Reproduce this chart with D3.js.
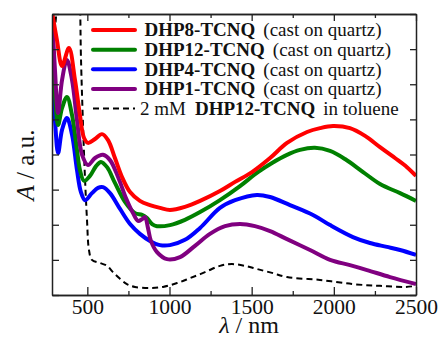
<!DOCTYPE html>
<html>
<head>
<meta charset="utf-8">
<script src="https://cdn.jsdelivr.net/npm/d3@7"></script>
<style>
  body { margin: 0; background: #fff; }
  svg { display: block; font-family: "Liberation Serif", "Times New Roman", serif; }
</style>
</head>
<body>
<div id="chart"></div>
<script>
// spectra: [wavelength in nm, absorbance in a.u.]
let dhp8 = [
  [285, 8.06], [315, 7.26], [346, 6.52], [388, 7.03], [425, 6.12], [455, 5.12],
  [480, 4.47], [504, 4.33], [547, 4.44], [589, 4.58], [626, 4.41], [668, 3.9],
  [711, 3.36], [760, 2.93], [820, 2.68], [881, 2.56], [942, 2.48], [1003, 2.42],
  [1094, 2.51], [1186, 2.68], [1307, 2.96], [1399, 3.22], [1502, 3.5], [1612, 3.9],
  [1715, 4.33], [1837, 4.64], [1916, 4.75], [1995, 4.81], [2098, 4.75], [2190, 4.53],
  [2281, 4.21], [2372, 3.9], [2445, 3.64], [2500, 3.39],
];
let dhp12 = [
  [285, 6.75], [303, 5.69], [322, 4.84], [346, 5.32], [376, 5.64], [407, 5.12],
  [437, 4.13], [455, 3.56], [480, 3.25], [516, 3.39], [553, 3.67], [583, 3.79],
  [620, 3.64], [668, 3.19], [729, 2.65], [790, 2.33], [833, 2.28], [863, 2.19],
  [894, 2.02], [924, 1.96], [1003, 1.99], [1094, 2.14], [1186, 2.36], [1307, 2.7],
  [1429, 3.1], [1538, 3.5], [1624, 3.76], [1715, 3.99], [1794, 4.13], [1885, 4.19],
  [1977, 4.1], [2068, 3.87], [2178, 3.5], [2281, 3.16], [2403, 2.9], [2500, 2.68],
];
let dhp4 = [
  [285, 6.35], [303, 4.98], [322, 4.04], [346, 4.7], [376, 5.04], [407, 4.56],
  [437, 3.56], [461, 2.93], [486, 2.7], [528, 2.9], [565, 3.05], [595, 3.07],
  [638, 2.9], [699, 2.45], [760, 2.02], [820, 1.74], [881, 1.54], [942, 1.42],
  [1003, 1.42], [1094, 1.57], [1186, 1.91], [1307, 2.48], [1399, 2.7], [1532, 2.85],
  [1612, 2.79], [1733, 2.56], [1873, 2.28], [1977, 1.99], [2116, 1.65], [2220, 1.48],
  [2323, 1.37], [2403, 1.28], [2500, 1.14],
];
let dhp1 = [
  [285, 8.03], [303, 6.41], [322, 5.18], [346, 6.12], [376, 6.69], [407, 6.12],
  [437, 4.98], [468, 3.99], [504, 3.7], [547, 3.9], [595, 3.99], [638, 3.84],
  [687, 3.36], [735, 2.76], [778, 2.33], [808, 2.11], [833, 2.16], [851, 2.22],
  [869, 1.91], [887, 1.54], [924, 1.22], [985, 1.02], [1064, 1.08], [1155, 1.4],
  [1246, 1.74], [1338, 1.96], [1429, 2.02], [1520, 1.96], [1612, 1.82], [1715, 1.59],
  [1855, 1.28], [1977, 1.0], [2098, 0.85], [2202, 0.71], [2342, 0.51], [2500, 0.31],
];
// solution spectrum (goes off scale between ~315 and ~455 nm)
let toluene = [
  [285, 7.2], [305, 7.7], [315, 8.4], [330, 9.5], [440, 9.5], [455, 8.3],
  [461, 6.8], [474, 4.8], [486, 3.3], [498, 2.14], [510, 1.28], [528, 1.0],
  [577, 0.91], [620, 0.83], [656, 0.65], [699, 0.46], [741, 0.31], [790, 0.23],
  [881, 0.2], [960, 0.23], [1046, 0.34], [1125, 0.48], [1216, 0.65], [1307, 0.83],
  [1380, 0.88], [1459, 0.83], [1532, 0.74], [1624, 0.63], [1715, 0.51], [1916, 0.43],
  [2116, 0.31], [2281, 0.26], [2433, 0.23], [2500, 0.26],
];

let xMajor = [500, 1000, 1500, 2000, 2500];
let xMinor = [750, 1250, 1750, 2250];
let yMajor = [0, 1, 2, 3, 4, 5, 6, 7, 8];

let legendBold = ["DHP8-TCNQ", "DHP12-TCNQ", "DHP4-TCNQ", "DHP1-TCNQ"];
let legendColors = ["#ff0000", "#008000", "#0000ff", "#800080"];

let width = 441, height = 344;
let margin = { top: 14, right: 25, bottom: 49, left: 52 };

let svg = d3.select("#chart").append("svg")
  .attr("width", width)
  .attr("height", height);

let x = d3.scaleLinear().domain([285, 2500]).range([margin.left, width - margin.right]);
let y = d3.scaleLinear().domain([0, 8]).range([height - margin.bottom, margin.top]);

svg.append("clipPath").attr("id", "plotClip")
  .append("rect")
  .attr("x", margin.left).attr("y", margin.top)
  .attr("width", x.range()[1] - margin.left)
  .attr("height", y.range()[0] - margin.top);

let line = d3.line()
  .x(d => x(d[0]))
  .y(d => y(d[1]))
  .curve(d3.curveCatmullRom.alpha(0.5));

let plot = svg.append("g").attr("clip-path", "url(#plotClip)");

plot.append("path").datum(toluene)
  .attr("d", line)
  .attr("fill", "none")
  .attr("stroke", "#000")
  .attr("stroke-width", 2)
  .attr("stroke-dasharray", "6,4");

// drawing order: blue, green, purple, red on top
[[dhp4, 2], [dhp12, 1], [dhp1, 3], [dhp8, 0]].forEach(function (s) {
  plot.append("path").datum(s[0])
    .attr("d", line)
    .attr("fill", "none")
    .attr("stroke", legendColors[s[1]])
    .attr("stroke-width", 4)
    .attr("stroke-linejoin", "round");
});

// axes, ticks pointing inward
let yBottom = y.range()[0], xRight = x.range()[1];

function styleAxis(g) {
  g.selectAll(".domain").attr("stroke", "#222").attr("stroke-width", 1.5);
  g.selectAll(".tick line").attr("stroke", "#222").attr("stroke-width", 1.3);
  g.selectAll("text").attr("font-family", "Liberation Serif").attr("font-size", 21.5).attr("fill", "#111");
}

svg.append("g").attr("transform", "translate(0," + yBottom + ")")
  .call(d3.axisBottom(x).tickValues(xMajor).tickSizeInner(-8).tickSizeOuter(0).tickPadding(4).tickFormat(d3.format("d")))
  .call(styleAxis);
svg.append("g").attr("transform", "translate(0," + yBottom + ")")
  .call(d3.axisBottom(x).tickValues(xMinor).tickSizeInner(-4).tickSizeOuter(0).tickFormat(""))
  .call(styleAxis);
svg.append("g").attr("transform", "translate(0," + margin.top + ")")
  .call(d3.axisTop(x).tickValues(xMajor).tickSizeInner(-7).tickSizeOuter(0).tickFormat(""))
  .call(styleAxis);
svg.append("g").attr("transform", "translate(0," + margin.top + ")")
  .call(d3.axisTop(x).tickValues(xMinor).tickSizeInner(-4).tickSizeOuter(0).tickFormat(""))
  .call(styleAxis);
svg.append("g").attr("transform", "translate(" + margin.left + ",0)")
  .call(d3.axisLeft(y).tickValues(yMajor).tickSizeInner(-7).tickSizeOuter(0).tickFormat(""))
  .call(styleAxis);
svg.append("g").attr("transform", "translate(" + xRight + ",0)")
  .call(d3.axisRight(y).tickValues(yMajor).tickSizeInner(-6).tickSizeOuter(0).tickFormat(""))
  .call(styleAxis);

// axis titles
let xTitle = svg.append("text")
  .attr("x", 249).attr("y", 333)
  .attr("text-anchor", "middle")
  .attr("font-size", 24).attr("fill", "#111");
xTitle.append("tspan").attr("font-style", "italic").text("λ");
xTitle.append("tspan").text(" / nm");

let yTitle = svg.append("text")
  .attr("transform", "translate(34,165) rotate(-90)")
  .attr("text-anchor", "middle")
  .attr("font-size", 25).attr("fill", "#111");
yTitle.append("tspan").attr("font-style", "italic").text("A");
yTitle.append("tspan").text(" / a.u.");

// legend
let legend = svg.append("g").attr("font-size", 19).attr("fill", "#111");
let rowY = d3.scaleLinear().domain([0, 4]).range([30, 108.5]);

legendBold.forEach(function (name, i) {
  let cy = rowY(i);
  legend.append("line")
    .attr("x1", 93).attr("x2", 135).attr("y1", cy).attr("y2", cy)
    .attr("stroke", legendColors[i]).attr("stroke-width", 4)
    .attr("stroke-linecap", "round");
  let t = legend.append("text").attr("x", 144.5).attr("y", cy + 6.3);
  t.append("tspan").attr("font-weight", "bold").text(name);
  t.append("tspan").attr("dx", 8).text("(cast on quartz)");
});

let cy5 = rowY(4);
legend.append("line")
  .attr("x1", 93).attr("x2", 135).attr("y1", cy5).attr("y2", cy5)
  .attr("stroke", "#000").attr("stroke-width", 2)
  .attr("stroke-dasharray", "6,4");
let t5 = legend.append("text").attr("x", 140).attr("y", cy5 + 6.3);
t5.append("tspan").text("2 mM");
t5.append("tspan").attr("dx", 9).attr("font-weight", "bold").text("DHP12-TCNQ");
t5.append("tspan").attr("dx", 8).text("in toluene");
</script>
</body>
</html>
